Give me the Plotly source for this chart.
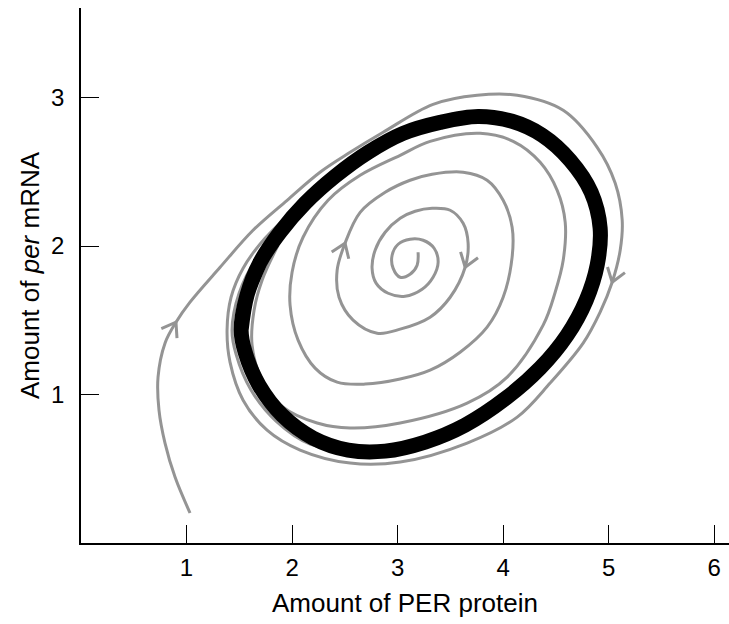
import numpy as np
import plotly.graph_objects as go

# ---------------- data (in axis units) ----------------
x_ticks = [1, 2, 3, 4, 5, 6]
y_ticks = [1, 2, 3]

# thick black limit cycle (clockwise, starting at the left side)
cycle_x = [1.517, 1.573, 1.697, 1.886, 2.123, 2.408, 2.720, 3.052, 3.403, 3.763,
           4.085, 4.370, 4.635, 4.834, 4.919, 4.891, 4.787, 4.607, 4.351, 4.028,
           3.640, 3.261, 2.882, 2.531, 2.199, 1.905, 1.687, 1.555]
cycle_y = [1.433, 1.669, 1.891, 2.093, 2.288, 2.470, 2.631, 2.759, 2.833, 2.873,
           2.840, 2.746, 2.577, 2.362, 2.120, 1.871, 1.635, 1.400, 1.178, 0.976,
           0.794, 0.680, 0.619, 0.626, 0.707, 0.861, 1.063, 1.285]

# inner spiral, from the centre outwards onto the cycle
spiral_x = [3.194, 3.185, 3.118, 3.024, 2.957, 2.948, 3.005, 3.118, 3.242, 3.346,
            3.384, 3.336, 3.232, 3.071, 2.910, 2.796, 2.758, 2.787, 2.882, 3.024,
            3.166, 3.327, 3.498, 3.621, 3.668, 3.640, 3.498, 3.308, 3.024, 2.806,
            2.578, 2.445, 2.427, 2.502, 2.645, 2.882, 3.118, 3.327, 3.621, 3.848,
            4.000, 4.085, 4.085, 4.000, 3.848, 3.592, 3.308, 3.024, 2.692, 2.427,
            2.218, 2.057, 1.981, 2.000, 2.104, 2.341, 2.645, 3.024, 3.308, 3.782,
            4.095, 4.351, 4.512, 4.588, 4.569, 4.493, 4.379, 4.038, 3.659, 3.024,
            2.550, 2.237, 1.915, 1.716, 1.621, 1.640, 1.716, 1.867]
spiral_y = [1.958, 1.871, 1.810, 1.790, 1.851, 1.938, 2.012, 2.046, 2.039, 1.985,
            1.891, 1.790, 1.709, 1.662, 1.682, 1.750, 1.851, 1.972, 2.093, 2.187,
            2.234, 2.254, 2.241, 2.153, 2.019, 1.857, 1.655, 1.521, 1.440, 1.413,
            1.501, 1.655, 1.837, 2.019, 2.227, 2.362, 2.443, 2.483, 2.497, 2.443,
            2.308, 2.127, 1.925, 1.655, 1.454, 1.285, 1.164, 1.104, 1.070, 1.083,
            1.178, 1.366, 1.602, 1.824, 2.059, 2.308, 2.476, 2.611, 2.705, 2.759,
            2.705, 2.564, 2.375, 2.160, 1.904, 1.689, 1.467, 1.117, 0.942, 0.808,
            0.774, 0.808, 0.915, 1.097, 1.332, 1.568, 1.770, 2.005]

# outer trajectory, from the start point near (1, 0.2) onto the cycle
# (after touching the cycle it runs under it once more and shows again as a
#  thin grey fringe along the lower-left outside edge)
outer_x = [1.033, 0.891, 0.796, 0.739, 0.730, 0.796, 0.900, 1.033, 1.318, 1.630,
           1.953, 2.265, 2.550, 2.863, 3.336, 3.754, 4.133, 4.569, 4.891, 5.062,
           5.128, 5.109, 5.033, 4.919, 4.758, 4.445, 4.133, 3.659, 3.024, 2.550,
           2.076, 1.763, 1.536, 1.412, 1.384, 1.422, 1.536, 1.744, 2.076,
           2.408, 2.720, 3.052, 3.403, 3.763, 4.085, 4.370, 4.635, 4.834, 4.919,
           4.891, 4.787, 4.607, 4.351, 4.028, 3.640, 3.261, 2.882, 2.531,
           2.171, 1.848, 1.611, 1.469, 1.431, 1.498, 1.659, 1.886, 2.123]
outer_y = [0.202, 0.444, 0.673, 0.895, 1.117, 1.346, 1.487, 1.622, 1.857, 2.106,
           2.308, 2.497, 2.631, 2.766, 2.954, 3.015, 3.015, 2.914, 2.665, 2.423,
           2.174, 1.972, 1.756, 1.555, 1.346, 1.077, 0.848, 0.673, 0.545, 0.538,
           0.626, 0.760, 0.962, 1.218, 1.433, 1.655, 1.851, 2.052, 2.275,
           2.470, 2.631, 2.759, 2.833, 2.873, 2.840, 2.746, 2.577, 2.362, 2.120,
           1.871, 1.635, 1.400, 1.178, 0.976, 0.794, 0.680, 0.619, 0.626,
           0.666, 0.821, 1.030, 1.272, 1.433, 1.682, 1.911, 2.093, 2.288]

# where the direction arrows sit (index into each curve)
outer_arrow_idx = [6, 22]
spiral_arrow_idx = [33, 25]

# ---------------- layout geometry ----------------
W, H = 729, 624
ML, MR, MT, MB = 81, 0, 8, 81
X_RANGE = [0, 6.14]
Y_RANGE = [0, 3.603]
sx = (W - ML - MR) / (X_RANGE[1] - X_RANGE[0])   # px per x unit
sy = (H - MT - MB) / (Y_RANGE[1] - Y_RANGE[0])   # px per y unit

GRAY = "rgb(148,148,148)"


def chevrons(xs, ys, idxs, arm=16.0, half_angle=35.0):
    """Open V arrowheads whose tip is on the curve, oriented along it."""
    ox, oy = [], []
    for i in idxs:
        dx = (xs[i + 1] - xs[i - 1]) * sx
        dy = (ys[i + 1] - ys[i - 1]) * sy
        n = np.hypot(dx, dy)
        ux, uy = dx / n, dy / n
        tip = (xs[i], ys[i])
        ends = []
        for s in (1, -1):
            a = np.radians(half_angle * s)
            bx = -ux * np.cos(a) + uy * np.sin(a)
            by = -ux * np.sin(a) - uy * np.cos(a)
            ends.append((tip[0] + arm * bx / sx, tip[1] + arm * by / sy))
        ox += [ends[0][0], tip[0], ends[1][0], None]
        oy += [ends[0][1], tip[1], ends[1][1], None]
    return ox, oy


fig = go.Figure()

fig.add_trace(go.Scatter(x=outer_x, y=outer_y, mode="lines",
                         line=dict(color=GRAY, width=3, shape="spline", smoothing=1.0),
                         hoverinfo="skip"))
fig.add_trace(go.Scatter(x=spiral_x, y=spiral_y, mode="lines",
                         line=dict(color=GRAY, width=3, shape="spline", smoothing=1.0),
                         hoverinfo="skip"))

ax, ay = chevrons(outer_x, outer_y, outer_arrow_idx)
bx, by = chevrons(spiral_x, spiral_y, spiral_arrow_idx)
fig.add_trace(go.Scatter(x=ax + bx, y=ay + by, mode="lines",
                         line=dict(color=GRAY, width=3), hoverinfo="skip"))

# closed limit cycle drawn on top (wrap a couple of points for a smooth join)
cx = cycle_x + cycle_x[:3]
cy = cycle_y + cycle_y[:3]
fig.add_trace(go.Scatter(x=cx, y=cy, mode="lines",
                         line=dict(color="black", width=15, shape="spline", smoothing=1.0),
                         hoverinfo="skip"))

FONT = "Liberation Sans, Arial, Helvetica, sans-serif"

fig.update_layout(
    width=W, height=H,
    margin=dict(l=ML, r=MR, t=MT, b=MB),
    paper_bgcolor="white", plot_bgcolor="white",
    showlegend=False,
    font=dict(family=FONT, color="black"),
)
fig.update_xaxes(
    range=X_RANGE, showline=True, linecolor="black", linewidth=1.5,
    ticks="inside", ticklen=18, tickwidth=1.3, tickcolor="black",
    tickvals=x_ticks, ticktext=[str(v) for v in x_ticks],
    tickfont=dict(size=24), ticklabelstandoff=2,
    showgrid=False, zeroline=False, automargin=False,
    title=dict(text="Amount of PER protein", font=dict(size=26), standoff=14),
)
fig.update_yaxes(
    range=Y_RANGE, showline=True, linecolor="black", linewidth=1.5,
    ticks="inside", ticklen=18, tickwidth=1.3, tickcolor="black",
    tickvals=y_ticks, ticktext=[str(v) for v in y_ticks],
    tickfont=dict(size=24), ticklabelstandoff=10,
    showgrid=False, zeroline=False, automargin=False,
    title=dict(text="Amount of <i>per</i> mRNA", font=dict(size=26), standoff=4),
)

fig.write_html("out.html", config={"displayModeBar": False},
               post_script="document.body.style.margin='0';")
